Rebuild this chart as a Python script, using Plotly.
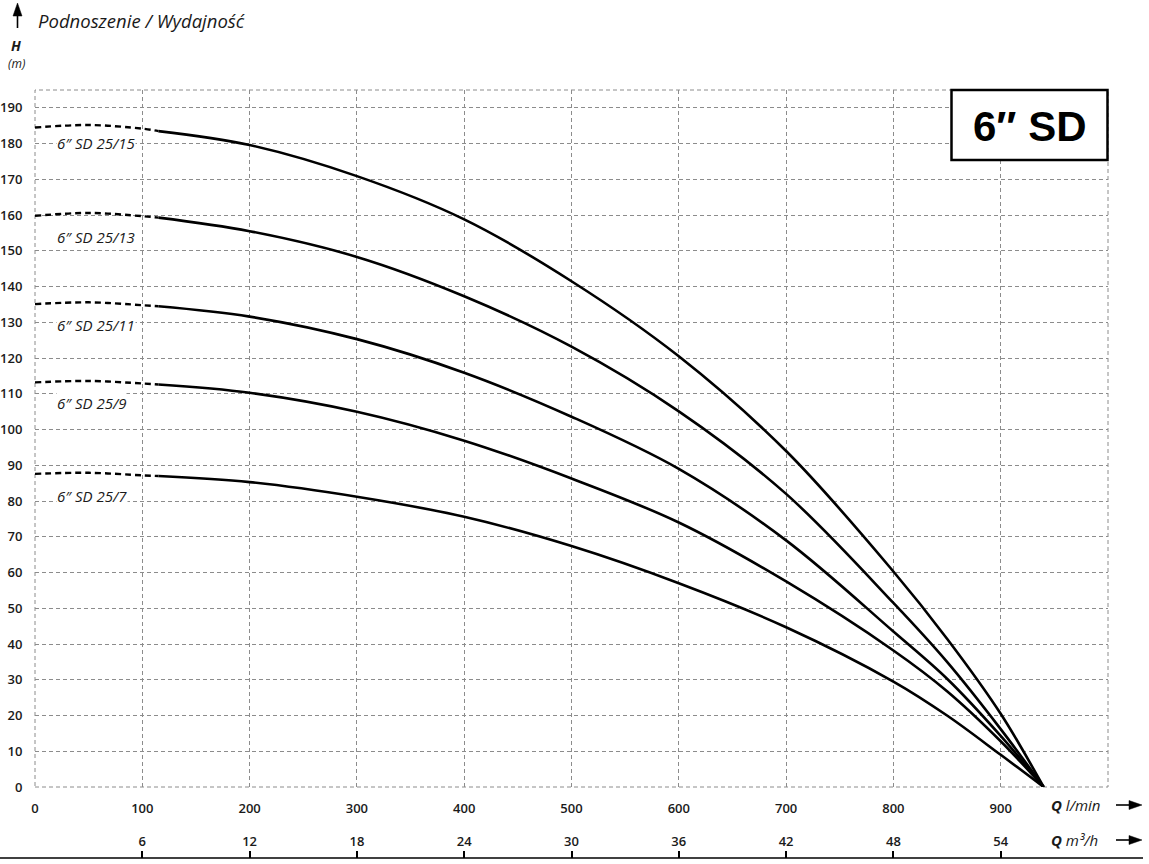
import plotly.graph_objects as go

# ---- data ----
q_lmin = [0, 50, 100, 115, 200, 300, 400, 500, 600, 700, 800, 850, 900, 940]
dash_end = 4  # first 4 points (0..115 l/min) are drawn dashed

curves = {
    "6″ SD 25/15": [184.5, 185.2, 184.2, 183.5, 179.6, 170.9, 158.8, 141.5, 120.5, 94.0, 60.3, 41.5, 20.5, 0],
    "6″ SD 25/13": [159.8, 160.6, 159.7, 159.3, 155.5, 148.3, 137.3, 123.2, 105.1, 82.0, 51.5, 35.0, 16.2, 0],
    "6″ SD 25/11": [135.1, 135.6, 134.8, 134.5, 131.6, 125.3, 115.9, 103.6, 89.0, 69.0, 43.5, 30.3, 14.3, 0],
    "6″ SD 25/9":  [113.2, 113.6, 112.9, 112.6, 110.3, 105.0, 96.9, 86.3, 74.0, 57.5, 38.2, 26.8, 12.8, 0],
    "6″ SD 25/7":  [87.6, 87.9, 87.2, 87.0, 85.3, 81.2, 75.6, 67.4, 57.0, 44.7, 29.5, 20.0, 9.0, 0],
}
label_h = {"6″ SD 25/15": 180.1, "6″ SD 25/13": 153.8, "6″ SD 25/11": 129.2,
           "6″ SD 25/9": 107.5, "6″ SD 25/7": 81.4}

x_ticks = [0, 100, 200, 300, 400, 500, 600, 700, 800, 900]
y_ticks = list(range(0, 200, 10))
m3h_ticks = [6, 12, 18, 24, 30, 36, 42, 48, 54]

GRID = "#8c8c8c"
TXT = "#1a1a1a"
TICKFONT = dict(family="Open Sans", size=13, color=TXT, weight=600)

# figure pixel geometry helpers (plot paper: x 35..1108, y 90..858)
PW, PH = 1073, 768
def px(x):
    return (x - 35) / PW
def py(y):
    return (858 - y) / PH

fig = go.Figure()
for name, h in curves.items():
    fig.add_trace(go.Scatter(x=q_lmin[:dash_end], y=h[:dash_end], mode="lines",
                             line=dict(color="black", width=2.4, dash="6px,4px", shape="spline"),
                             showlegend=False, hoverinfo="skip"))
    fig.add_trace(go.Scatter(x=q_lmin[dash_end - 1:], y=h[dash_end - 1:], mode="lines",
                             line=dict(color="black", width=2.6, shape="spline", smoothing=1.0),
                             name=name, showlegend=False))
    fig.add_annotation(x=20, y=label_h[name], xref="x", yref="y", text=name,
                       showarrow=False, xanchor="left", yanchor="middle",
                       font=dict(family="Open Sans", size=15, color=TXT, style="italic"),
                       bgcolor="white", borderpad=0)

# invisible trace activating the m3/h axis
fig.add_trace(go.Scatter(x=[0, 60], y=[0, 0], xaxis="x2", yaxis="y", mode="lines",
                         line=dict(color="rgba(0,0,0,0)"), showlegend=False, hoverinfo="skip"))

ydom0 = (858 - 787) / PH

fig.update_layout(
    width=1149, height=864,
    margin=dict(l=35, r=41, t=90, b=6, autoexpand=False),
    paper_bgcolor="white", plot_bgcolor="white",
    xaxis=dict(range=[0, 1000], tickvals=x_ticks, ticktext=[str(v) for v in x_ticks],
               showgrid=True, gridcolor=GRID, griddash="4px,3px", gridwidth=1,
               zeroline=False, showline=False, ticks="outside", ticklen=9,
               tickcolor="rgba(0,0,0,0)", tickfont=TICKFONT, anchor="y", automargin=False),
    xaxis2=dict(range=[0, 60], tickvals=m3h_ticks, overlaying="x", anchor="free",
                position=0, side="top", showgrid=False, zeroline=False, showline=False,
                ticks="outside", ticklen=7, tickwidth=1.5, tickcolor="black",
                tickfont=TICKFONT, automargin=False),
    yaxis=dict(range=[0, 195], tickvals=y_ticks, domain=[ydom0, 1],
               showgrid=True, gridcolor=GRID, griddash="4px,3px", gridwidth=1,
               zeroline=False, showline=False, ticks="outside", ticklen=9,
               tickcolor="rgba(0,0,0,0)", tickfont=TICKFONT, automargin=False),
)

# dashed border around the plot area
fig.add_shape(type="rect", xref="x domain", yref="y domain", x0=0, x1=1, y0=0, y1=1,
              line=dict(color=GRID, width=1, dash="4px,3px"), layer="below")
# bottom solid line of the m3/h scale
fig.add_shape(type="line", xref="paper", yref="paper", x0=px(0), x1=px(1143),
              y0=0, y1=0, line=dict(color="black", width=1.5))

# 6" SD box
fig.add_shape(type="rect", xref="paper", yref="paper",
              x0=px(951.5), x1=px(1107.5), y0=py(160), y1=py(90),
              line=dict(color="black", width=2.5), fillcolor="white", layer="above")
fig.add_annotation(xref="paper", yref="paper", x=px(1030), y=py(126),
                   xanchor="center", yanchor="middle",
                   text="<b>6″ SD</b>", showarrow=False,
                   font=dict(family="Liberation Sans", size=42, color="black"))

# title and axis captions
fig.add_annotation(xref="paper", yref="paper", x=px(36), y=py(20),
                   text="<i>Podnoszenie / Wydajność</i>", showarrow=False,
                   xanchor="left", yanchor="middle",
                   font=dict(family="Open Sans", size=18.5, color=TXT))
fig.add_annotation(xref="paper", yref="paper", x=px(16), y=py(46),
                   xanchor="center", yanchor="middle",
                   text="<b><i>H</i></b>", showarrow=False,
                   font=dict(family="Open Sans", size=14, color=TXT))
fig.add_annotation(xref="paper", yref="paper", x=px(16), y=py(63),
                   xanchor="center", yanchor="middle",
                   text="<i>(m)</i>", showarrow=False,
                   font=dict(family="Open Sans", size=12, color=TXT))

# up arrow (line + filled head)
fig.add_shape(type="line", xref="paper", yref="paper", x0=px(17.5), x1=px(17.5),
              y0=py(28), y1=py(10), line=dict(color="black", width=1.6))
fig.add_shape(type="path", xref="paper", yref="paper", xsizemode="pixel", ysizemode="pixel",
              xanchor=px(17.5), yanchor=py(3), path="M -4.5,-13 L 0,0 L 4.5,-13 Z",
              fillcolor="black", line=dict(color="black", width=0.5))

for ypix, txt in [(805, "<b><i>Q</i></b> <i>l/min</i>"), (840, "<b><i>Q</i></b> <i>m³/h</i>")]:
    fig.add_annotation(xref="paper", yref="paper", x=px(1049), y=py(ypix),
                       text=txt, showarrow=False, xanchor="left", yanchor="middle",
                       font=dict(family="Open Sans", size=15, color=TXT))
    fig.add_shape(type="line", xref="paper", yref="paper", x0=px(1116), x1=px(1132),
                  y0=py(ypix), y1=py(ypix), line=dict(color="black", width=1.6))
    fig.add_shape(type="path", xref="paper", yref="paper", xsizemode="pixel", ysizemode="pixel",
                  xanchor=px(1142), yanchor=py(ypix), path="M -13,-4.5 L 0,0 L -13,4.5 Z",
                  fillcolor="black", line=dict(color="black", width=0.5))

fig.write_html("out.html", config={"displayModeBar": False},
               post_script="document.body.style.margin='0';document.body.style.padding='0';")
